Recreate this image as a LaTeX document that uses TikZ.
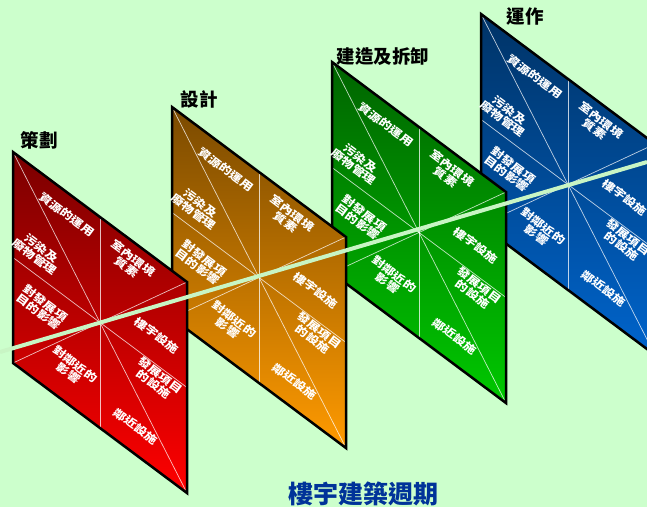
\documentclass[tikz,border=0pt]{standalone}
\usepackage{fontspec}
\newfontfamily\cjk{Noto Sans CJK TC}
\usetikzlibrary{calc}
\definecolor{bgcol}{HTML}{CCFFCC}
\definecolor{linecol}{HTML}{C8F5C4}
\definecolor{redA}{HTML}{7A0000}
\definecolor{redB}{HTML}{FF0000}
\definecolor{orA}{HTML}{7A4A00}
\definecolor{orB}{HTML}{FF9A00}
\definecolor{grA}{HTML}{006400}
\definecolor{grB}{HTML}{00C800}
\definecolor{blA}{HTML}{003366}
\definecolor{blB}{HTML}{0064CC}
\definecolor{titleblue}{HTML}{003399}
\newcommand\mypanel[5]{%
  \coordinate (#1tl) at (#2,#3);
  \coordinate (#1tr) at ($(#1tl)+(174,130)$);
  \coordinate (#1bl) at ($(#1tl)+(0,211)$);
  \coordinate (#1br) at ($(#1tr)+(0,211)$);
  \coordinate (#1c) at ($(#1tl)!0.5!(#1br)$);
  \coordinate (#1tm) at ($(#1tl)!0.5!(#1tr)$);
  \coordinate (#1bm) at ($(#1bl)!0.5!(#1br)$);
  \coordinate (#1lm) at ($(#1tl)!0.5!(#1bl)$);
  \coordinate (#1rm) at ($(#1tr)!0.5!(#1br)$);
  \shade[top color=#4,bottom color=#5] (#1tl) -- (#1tr) -- (#1br) -- (#1bl) -- cycle;
  \draw[gridline] (#1tm) -- (#1bm);
  \draw[gridline] (#1lm) -- (#1rm);
  \draw[gridline] (#1tl) -- (#1br);
  \draw[gridline] (#1bl) -- (#1tr);
  \draw[rim] (#1tl) -- (#1tr) -- (#1br) -- (#1bl) -- cycle;
  \node[lab] (#1a) at ($(#1c)+(-33,-108)$) {資源的運用};
  \node[lab] (#1b) at ($(#1c)+(-62,-70)$) {污染及\\廢物管理};
  \node[lab] (#1d) at ($(#1c)+(-58,-15)$) {對發展項\\目的影響};
  \node[lab] (#1e) at ($(#1c)+(30,-60)$) {室內環境\\質素};
  \node[lab] (#1f) at ($(#1c)+(57,13)$) {樓宇設施};
  \node[lab] (#1g) at ($(#1c)+(57,57)$) {發展項目\\的設施};
  \node[lab] (#1h) at ($(#1c)+(36,104)$) {鄰近設施};
  \node[lab] (#1i) at ($(#1c)+(-28,46)$) {對鄰近的\\影響};
}
\begin{document}
\begin{tikzpicture}[x=1pt,y=-1pt,
  lab/.style={text=white,font=\cjk\bfseries\fontsize{13}{13.5}\selectfont,align=center,rotate=-36.8,yscale=0.82,inner sep=0pt},
  ttl/.style={font=\cjk\bfseries\fontsize{18.5}{20}\selectfont,text=black,inner sep=0pt},
  gridline/.style={white,opacity=0.75,line width=0.7pt},
  rim/.style={black,line width=2.5pt,line join=miter}]
\fill[bgcol] (0,0) rectangle (647,507);
\useasboundingbox (0,0) rectangle (647,507);
\mypanel{p}{481}{14}{blA}{blB}
\mypanel{g}{332}{62}{grA}{grB}
\mypanel{o}{172}{107}{orA}{orB}
\mypanel{r}{13}{152}{redA}{redB}
\coordinate (ls) at (0,352);
\coordinate (le) at (647,162);
\draw[linecol,line width=4pt] (ls) -- (le);
\node[ttl] (t1) at (39,140) {策劃};
\node[ttl] (t2) at (199,99) {設計};
\node[ttl] (t3) at (383,57) {建造及拆卸};
\node[ttl] (t4) at (525,17) {運作};
\node[font=\cjk\bfseries\fontsize{25}{27}\selectfont,text=titleblue,inner sep=0pt] (main) at (363,494) {樓宇建築週期};
\end{tikzpicture}
\end{document}
